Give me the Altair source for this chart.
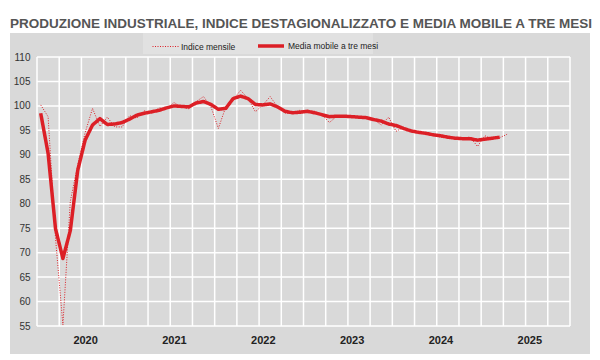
import altair as alt
import pandas as pd

# ---------------- data ----------------
anni = ["2020", "2021", "2022", "2023", "2024", "2025"]
serie_nomi = ["Indice mensile", "Media mobile a tre mesi"]

# monthly index, Jan 2020 -> Apr 2025
indice_mensile = [
    100.2, 97.8, 73.0, 55.2, 80.5, 88.0, 94.5, 99.5, 95.8, 97.7, 95.7, 95.7,
    98.0, 97.5, 99.0, 98.5, 99.6, 99.4, 100.7, 99.8, 99.4, 100.9, 101.9, 99.8,
    95.4, 99.8, 101.3, 103.2, 101.5, 98.8, 100.2, 101.9, 99.8, 98.5, 98.5, 99.1,
    98.8, 98.9, 98.2, 96.6, 97.9, 98.0, 97.8, 97.7, 97.5, 97.2, 96.1, 97.7,
    94.8, 95.6, 95.0, 94.6, 94.3, 94.1, 93.6, 93.5, 93.3, 93.2, 93.7, 91.7,
    93.9, 93.3, 93.5, 94.2,
]
# centred three-month moving average, Jan 2020 -> Mar 2025
media_mobile = [
    98.5, 90.3, 74.9, 68.8, 74.5, 86.8, 93.0, 96.1, 97.4, 96.2, 96.3, 96.6,
    97.3, 98.1, 98.5, 98.8, 99.1, 99.6, 100.0, 99.9, 99.8, 100.6, 100.9, 100.3,
    99.3, 99.5, 101.5, 102.0, 101.5, 100.3, 100.2, 100.4, 99.8, 98.9, 98.6, 98.7,
    98.9, 98.6, 98.2, 97.8, 97.9, 97.9, 97.8, 97.7, 97.6, 97.2, 96.9, 96.3,
    96.0, 95.4, 94.9, 94.6, 94.4, 94.1, 93.9, 93.6, 93.4, 93.3, 93.3, 93.0,
    93.2, 93.4, 93.6,
]
y_ticks = [55, 60, 65, 70, 75, 80, 85, 90, 95, 100, 105, 110]
# quarter boundaries (month index) used for the vertical grid
trimestri = [-0.5, 2.5, 5.5, 8.5, 11.5, 14.5, 17.5, 20.5, 23.5, 26.5, 29.5, 32.5,
             35.5, 38.5, 41.5, 44.5, 47.5, 50.5, 53.5, 56.5, 59.5, 62.5, 65.5,
             68.5, 71.5]
# year labels sit at July of each year
etichette_pos = [6, 18, 30, 42, 54, 66]

# ---------------- build ----------------
W, H = 533, 269
RED = "#dc1f26"
FONT = "Liberation Sans"

rows = []
for i, v in enumerate(indice_mensile):
    rows.append({"mese": i, "valore": v, "serie": serie_nomi[0]})
for i, v in enumerate(media_mobile):
    rows.append({"mese": i, "valore": v, "serie": serie_nomi[1]})
df = pd.DataFrame(rows)

xscale = alt.Scale(domain=[-0.5, 71.5], nice=False, zero=False)
yscale = alt.Scale(domain=[55, 110], nice=False, zero=False)

label_expr = "[" + ",".join("'" + a + "'" for a in anni) + "][(datum.value - 6) / 12]"
xaxis = alt.Axis(values=etichette_pos, labelExpr=label_expr, title=None,
                 grid=False, ticks=False, domain=False, labelFont=FONT,
                 labelFontSize=11, labelFontWeight="bold", labelColor="#222",
                 labelPadding=8, zindex=1)
yaxis = alt.Axis(values=y_ticks, title=None, grid=False, ticks=False,
                 domain=False, labelFont=FONT, labelFontSize=10,
                 labelColor="#333", labelPadding=7, zindex=1)

one = pd.DataFrame({"a": [0]})

bg = alt.Chart(one).mark_rect(color="#d9d9d9").encode(
    x=alt.value(-27), x2=alt.value(553), y=alt.value(-24), y2=alt.value(297)
)
legbox = alt.Chart(one).mark_rect(color="#e1e1e1").encode(
    x=alt.value(106), x2=alt.value(336), y=alt.value(-24), y2=alt.value(-3)
)

hgrid = alt.Chart(pd.DataFrame({"v": y_ticks})).mark_rule(
    color="white", strokeWidth=1.5
).encode(
    y=alt.Y("v:Q", scale=yscale, axis=yaxis), x=alt.value(0), x2=alt.value(W)
)
vgrid = alt.Chart(pd.DataFrame({"q": trimestri})).mark_rule(
    color="white", strokeWidth=1.5
).encode(
    x=alt.X("q:Q", scale=xscale, axis=xaxis), y=alt.value(0), y2=alt.value(H)
)

leg = alt.Legend(
    title=None, orient="none", legendX=115, legendY=-26, direction="horizontal",
    symbolType="stroke", symbolSize=676, labelFont=FONT, labelFontSize=8.5,
    labelColor="#222", labelOffset=2, columnPadding=15, padding=0, zindex=1,
)

lines = alt.Chart(df).mark_line(strokeJoin="round").encode(
    x=alt.X("mese:Q", scale=xscale, axis=xaxis),
    y=alt.Y("valore:Q", scale=yscale, axis=yaxis),
    color=alt.Color("serie:N", scale=alt.Scale(domain=serie_nomi, range=[RED, RED]), legend=leg),
    strokeDash=alt.StrokeDash("serie:N", scale=alt.Scale(domain=serie_nomi, range=[[1, 1.5], [1, 0]]), legend=leg),
    strokeWidth=alt.StrokeWidth("serie:N", scale=alt.Scale(domain=serie_nomi, range=[1, 3.5]), legend=leg),
)

title = alt.Chart(one).mark_text(
    text="PRODUZIONE INDUSTRIALE, INDICE DESTAGIONALIZZATO E MEDIA MOBILE A TRE MESI",
    font=FONT, fontSize=13.5, fontWeight="bold", color="#555555",
    align="center", baseline="alphabetic",
).encode(x=alt.value(264), y=alt.value(-29.5))

chart = alt.layer(bg, legbox, hgrid, vgrid, lines, title).properties(
    width=W, height=H,
    autosize=alt.AutoSizeParams(type="none"),
    padding={"left": 29, "top": 49, "right": 22, "bottom": 28},
    background="white",
).configure_view(stroke=None)

chart.save("out.html", embed_options={"renderer": "svg", "actions": False})
